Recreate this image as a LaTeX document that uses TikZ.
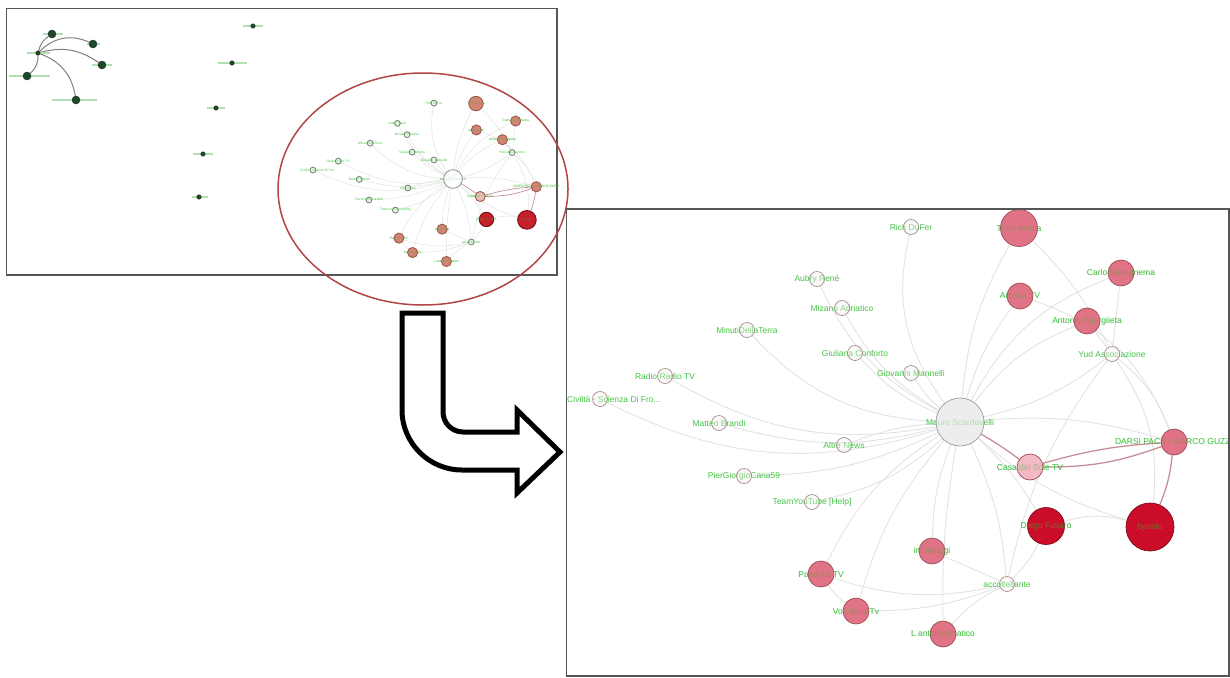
\documentclass[tikz,border=0pt]{standalone}
\usepackage{fontspec}
\setmainfont{Liberation Sans}
\usetikzlibrary{backgrounds}
\definecolor{lblgreen}{HTML}{44C444}
\definecolor{panelgray}{HTML}{555555}
\definecolor{ellred}{HTML}{B04545}
\definecolor{dkgreen}{HTML}{1F4A2A}
\definecolor{ghostgreen}{HTML}{B4DEB4}
\definecolor{pkfill}{HTML}{DE6479}
\definecolor{pkedge}{HTML}{9A4A55}
\definecolor{lpfill}{HTML}{F0B2BE}
\definecolor{rdfill}{HTML}{C8001E}
\definecolor{rdedge}{HTML}{7A0A18}
\definecolor{wnfill}{HTML}{F4EEEE}
\definecolor{wnedge}{HTML}{A88C8C}
\definecolor{msfill}{HTML}{E6E6E6}
\definecolor{msedge}{HTML}{9A9A9A}
\definecolor{gedgecol}{HTML}{E2E2E2}
\definecolor{pedgecol}{HTML}{C88E98}
\tikzset{
  panel/.style={draw=panelgray, line width=1.5pt},
  lbl/.style={inner sep=0pt, text=lblgreen, font=\fontsize{8.5}{10}\selectfont},
  gnode/.style={circle, inner sep=0pt, line width=0.7pt, fill opacity=0.9},
  wn/.style={gnode, minimum size=15pt, draw=wnedge, fill=wnfill, fill opacity=0.35},
  pk/.style={gnode, minimum size=26pt, draw=pkedge, fill=pkfill},
  pkL/.style={pk, minimum size=37pt},
  lp/.style={gnode, minimum size=26pt, draw=pkedge, fill=lpfill},
  rd/.style={gnode, minimum size=37pt, draw=rdedge, fill=rdfill, fill opacity=0.95},
  rdL/.style={rd, minimum size=48pt},
  ms/.style={gnode, minimum size=48pt, draw=msedge, fill=msfill, fill opacity=0.7},
  gedge/.style={draw=gedgecol, line width=0.9pt},
  pedge/.style={draw=pedgecol, line width=1.3pt},
  dk/.style={circle, inner sep=0pt, minimum size=8pt, fill=dkgreen, draw=dkgreen!60!black, line width=0.4pt},
  dks/.style={dk, minimum size=4.5pt},
  dkedge/.style={draw=gray, line width=1pt},
  ghost/.style={draw=ghostgreen, line width=1.2pt},
}
% name, position, node style, text, label options
\newcommand\gn[5]{\node[lbl,#5] (#1-t) at (#2) {#4}; \node[#3] (#1) at (#2) {};}
% coloured node: label shows faintly through the fill
\newcommand\gnc[6]{\gn{#1}{#2}{#3}{#4}{#5}\node[lbl,#5,text opacity=#6] (#1-o) at (#2) {#4};}
\newcommand\graphnodes{%
  \gn{rick}{911,227}{wn}{Rick DuFer}{}
  \gnc{tutto}{1019,228}{pkL}{Tutto Media}{}{0.3}
  \gnc{carlo}{1121,273}{pk}{Carlo Savegnema}{}{0.3}
  \gnc{airola}{1020,296}{pk}{Arcana TV}{}{0.3}
  \gnc{antonio}{1087,321}{pk}{Antonio Sgargiieta}{}{0.3}
  \gn{yud}{1112,354}{wn}{Yud Associazione}{}
  \gn{aubry}{817,279}{wn}{Aubry René}{}
  \gn{mizano}{842,308}{wn}{Mizano Adriatico}{}
  \gn{minuti}{747,330}{wn}{MinutiDellaTerra}{}
  \gn{giuliana}{855,353}{wn}{Giuliana Conforto}{}
  \gn{giovanni}{911,373}{wn}{Giovanni Mannelli}{}
  \gn{radio}{665,376}{wn}{Radio Radio TV}{}
  \gn{civilta}{600,399}{wn}{Civiltà - Scienza Di Fro...}{xshift=14pt}
  \gn{matteo}{719,423}{wn}{Matteo Brandi}{}
  \gn{altre}{844,445}{wn}{Altre News}{}
  \gn{mauro}{960,422}{ms}{Mauro Scardovelli}{}
  \gnc{darsi}{1174,442}{pk}{DARSI PACE - MARCO GUZZI}{}{0.3}
  \gnc{casa}{1030,467}{lp}{Casa del Sole TV}{}{0.4}
  \gn{pier}{744,476}{wn}{PierGiorgioCaria59}{}
  \gn{team}{812,502}{wn}{TeamYouTube [Help]}{}
  \gnc{diego}{1046,526}{rd}{Diego Fusaro}{}{0.5}
  \gnc{byoblu}{1150,527}{rdL}{byoblu}{}{0.5}
  \gnc{imola}{932,551}{pk}{imolaoggi}{}{0.3}
  \gn{acco}{1007,584}{wn}{accoltellante}{}
  \gnc{pandora}{821,574}{pk}{Pandora TV}{}{0.3}
  \gnc{vox}{856,611}{pk}{Vox Italia Tv}{}{0.3}
  \gnc{lanti}{943,634}{pk}{L antidiplomatico}{}{0.3}
}
\newcommand\graphedges{%
  \draw[gedge] (civilta) to[bend right=22] (mauro);
  \draw[gedge] (radio) to[bend right=20] (mauro);
  \draw[gedge] (minuti) to[bend right=22] (mauro);
  \draw[gedge] (matteo) to[bend right=15] (mauro);
  \draw[gedge] (aubry) to[bend right=18] (mauro);
  \draw[gedge] (mizano) to[bend right=15] (mauro);
  \draw[gedge] (giuliana) to[bend right=12] (mauro);
  \draw[gedge] (giovanni) to[bend right=10] (mauro);
  \draw[gedge] (altre) to[bend left=8] (mauro);
  \draw[gedge] (pier) to[bend right=12] (mauro);
  \draw[gedge] (team) to[bend right=15] (mauro);
  \draw[gedge] (rick) to[bend right=25] (mauro);
  \draw[gedge] (tutto) to[bend right=12] (mauro);
  \draw[gedge] (airola) to[bend right=10] (mauro);
  \draw[gedge] (antonio) to[bend right=15] (mauro);
  \draw[gedge] (carlo) to[bend right=20] (mauro);
  \draw[gedge] (yud) to[bend left=12] (mauro);
  \draw[gedge] (mauro) to[bend left=10] (darsi);
  \draw[gedge] (mauro) to[bend right=12] (byoblu);
  \draw[gedge] (mauro) to[bend left=8] (diego);
  \draw[gedge] (mauro) to[bend right=10] (imola);
  \draw[gedge] (mauro) to[bend left=10] (acco);
  \draw[gedge] (mauro) to[bend right=15] (pandora);
  \draw[gedge] (mauro) to[bend right=12] (vox);
  \draw[gedge] (mauro) to[bend right=5] (lanti);
  \draw[gedge] (tutto) to[bend left=10] (yud);
  \draw[gedge] (carlo) to (yud);
  \draw[gedge] (antonio) to (yud);
  \draw[gedge] (airola) to[bend left=25] (darsi);
  \draw[gedge] (yud) to[bend left=15] (darsi);
  \draw[gedge] (yud) to[bend left=20] (byoblu);
  \draw[gedge] (yud) to[bend right=12] (acco);
  \draw[gedge] (diego) to[bend left=15] (byoblu);
  \draw[gedge] (acco) to[bend left=15] (pandora);
  \draw[gedge] (acco) to[bend left=10] (vox);
  \draw[gedge] (acco) to[bend right=10] (lanti);
  \draw[gedge] (acco) to (imola);
  \draw[gedge] (acco) to[bend right=10] (diego);
  \draw[gedge] (pandora) to[bend right=10] (vox);
  \draw[pedge] (mauro) to[bend left=3] (casa);
  \draw[pedge] (casa) to[bend left=6] (darsi);
  \draw[pedge] (casa) to[bend right=10] (darsi);
  \draw[pedge] (darsi) to[bend left=8] (byoblu);
}
\newcommand\graphall{\graphnodes\begin{pgfonlayer}{background}\graphedges\end{pgfonlayer}}
\begin{document}
\begin{tikzpicture}[x=1pt,y=-1pt]
\useasboundingbox (0,0) rectangle (1230,677);
% left panel
\draw[panel] (6.5,8.5) rectangle (557,275);
% left cluster (illegible labels drawn as faint strokes)
\draw[ghost] (27,53) -- (50,53);
\draw[ghost] (43,34) -- (63,34);
\draw[ghost] (87,44) -- (100,44);
\draw[ghost] (92,65) -- (112,65);
\draw[ghost] (9,76) -- (50,76);
\draw[ghost] (52,100) -- (97,100);
\draw[ghost] (243,26) -- (263,26);
\draw[ghost] (218,63) -- (247,63);
\draw[ghost] (207,108) -- (225,108);
\draw[ghost] (193,154) -- (213,154);
\draw[ghost] (192,197) -- (208,197);
\node[dks] (hub) at (38,53) {};
\node[dk] (ca) at (52,34) {};
\node[dk] (cb) at (93,44) {};
\node[dk] (cc) at (102,65) {};
\node[dk] (cd) at (27,76) {};
\node[dk] (ce) at (76,100) {};
\node[dks] (i1) at (253,26) {};
\node[dks] (i2) at (232,63) {};
\node[dks] (i3) at (216,108) {};
\node[dks] (i4) at (203,154) {};
\node[dks] (i5) at (199,197) {};
\begin{pgfonlayer}{background}
\draw[dkedge] (hub) to[bend left=20] (ca);
\draw[dkedge] (hub) to[bend left=35] (cb);
\draw[dkedge] (hub) to[bend left=25] (cc);
\draw[dkedge] (hub) to[bend left=25] (cd);
\draw[dkedge] (hub) to[bend left=30] (ce);
\end{pgfonlayer}
% mini graph inside the ellipse
\begin{scope}[name prefix=m-, shift={(453,179)}, scale=0.389, shift={(-960,-422)}, transform shape,
  gedge/.style={draw=gedgecol, line width=0.5pt},
  pedge/.style={draw=pedgecol, line width=0.7pt},
  gnode/.style={circle, inner sep=0pt, line width=0.9pt, fill opacity=0.95}]
  \definecolor{pkfill}{HTML}{CD7F6D}
  \definecolor{pkedge}{HTML}{A05A4A}
  \definecolor{lpfill}{HTML}{E3BCAE}
  \definecolor{rdfill}{HTML}{C41420}
  \definecolor{wnfill}{HTML}{D8E4D0}
  \definecolor{wnedge}{HTML}{6F8F6F}
  \definecolor{msfill}{HTML}{FFFFFF}
  \definecolor{msedge}{HTML}{999999}
  \graphall
\end{scope}
\draw[draw=ellred, line width=1.5pt] (423,189) ellipse [x radius=145pt, y radius=116pt];
% right panel
\begin{scope}
  \clip (567,209) rectangle (1229,676);
  \graphall
\end{scope}
\draw[panel] (566.5,209) rectangle (1229,676);
% hollow arrow
\draw[line width=5pt, line join=miter, fill=white]
  (443,313) -- (402,313) -- (402,410) .. controls (402,443) and (429,470) .. (462,470)
  -- (517,470) -- (517,493) -- (560,452) -- (517,410) -- (517,432) -- (463,432)
  .. controls (452,432) and (443,423) .. (443,412) -- cycle;
\end{tikzpicture}
\end{document}
